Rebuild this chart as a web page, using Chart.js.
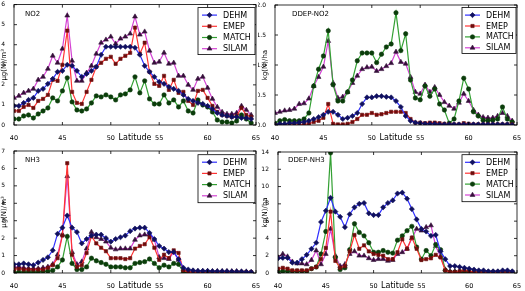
<!DOCTYPE html>
<html><head><meta charset="utf-8">
<script src="https://cdn.jsdelivr.net/npm/chart.js@4.4.1/dist/chart.umd.min.js"></script>
<style>
html,body{margin:0;padding:0;background:#fff;width:525px;height:291px;overflow:hidden;}
canvas{position:absolute;}
</style></head><body>
<canvas id="c1" style="left:0px;top:0px" width="262" height="146"></canvas>
<canvas id="c2" style="left:258px;top:0px" width="267" height="146"></canvas>
<canvas id="c3" style="left:0px;top:146px" width="262" height="145"></canvas>
<canvas id="c4" style="left:258px;top:146px" width="267" height="145"></canvas>
<script>
const latitudes = [40,40.5,41,41.5,42,42.5,43,43.5,44,44.5,45,45.5,46,46.5,47,47.5,48,48.5,49,49.5,50,50.5,51,51.5,52,52.5,53,53.5,54,54.5,55,55.5,56,56.5,57,57.5,58,58.5,59,59.5,60,60.5,61,61.5,62,62.5,63,63.5,64,64.5];
const models = ["DEHM","EMEP","MATCH","SILAM"];
const xTicks = [40,45,50,55,60,65];

const no2_dehm  = [0.95,0.95,1.1,1.25,1.35,1.7,1.8,2.05,2.3,2.65, 2.7,3.0,2.95,2.7,2.4,2.55,2.7,2.9,3.5,3.9, 3.9,3.9,3.9,3.9,3.9,3.85,3.5,2.95,2.65,2.4, 2.15,2.05,1.9,1.8,1.7,1.5,1.3,1.2,1.1,1.05, 0.95,0.8,0.6,0.5,0.45,0.4,0.4,0.35,0.35,0.3];
const no2_emep  = [0.7,0.7,0.9,1.0,0.85,1.2,1.3,1.5,2.25,2.2, 3.0,4.7,1.65,1.1,1.05,1.65,2.25,2.9,3.1,3.3, 3.4,3.05,3.3,3.45,3.6,4.85,3.55,4.1,2.65,2.05, 1.95,2.45,1.75,2.25,1.6,1.65,1.2,1.0,1.7,1.75, 1.35,0.95,0.65,0.5,0.45,0.4,0.45,0.85,0.5,0.4];
const no2_match = [0.3,0.3,0.45,0.5,0.35,0.55,0.7,0.85,1.35,1.2, 1.7,2.35,1.15,0.75,0.7,0.8,1.1,1.45,1.4,1.5, 1.4,1.25,1.5,1.55,1.75,2.4,1.6,2.2,1.3,1.05, 1.05,1.5,1.1,1.25,0.9,1.2,0.7,0.6,1.25,1.0, 0.9,0.65,0.25,0.15,0.15,0.1,0.2,0.5,0.3,0.1];
const no2_silam = [1.35,1.45,1.6,1.7,1.8,2.25,2.4,2.8,3.45,3.1, 3.8,5.45,3.2,2.2,2.2,2.6,2.95,3.55,4.1,4.25, 4.4,4.05,4.3,4.4,4.55,5.4,4.5,4.65,3.7,3.1, 3.15,3.6,3.05,3.1,2.45,2.45,2.0,1.75,2.3,2.4, 1.85,1.3,0.9,0.65,0.55,0.55,0.6,0.95,0.75,0.5];

const ddno2_dehm  = [0.0,0.02,0.02,0.03,0.03,0.04,0.05,0.07,0.1,0.13, 0.17,0.22,0.22,0.17,0.1,0.12,0.15,0.2,0.35,0.46, 0.46,0.48,0.48,0.47,0.46,0.4,0.3,0.15,0.07,0.04, 0.03,0.02,0.02,0.02,0.01,0.01,0.01,0.01,0.01,0.01, 0.01,0.01,0.01,0.01,0.01,0.01,0.01,0.01,0.01,0.0];
const ddno2_emep  = [0.0,0.0,0.0,0.0,0.0,0.0,0.01,0.02,0.05,0.07, 0.12,0.35,0.02,0.01,0.01,0.02,0.05,0.1,0.17,0.17, 0.2,0.17,0.18,0.2,0.22,0.22,0.22,0.2,0.1,0.04, 0.04,0.03,0.04,0.04,0.03,0.02,0.01,0.01,0.01,0.03, 0.02,0.01,0.01,0.01,0.01,0.01,0.01,0.01,0.01,0.01];
const ddno2_match = [0.03,0.07,0.09,0.07,0.07,0.07,0.1,0.2,0.65,0.93, 1.15,1.57,0.67,0.4,0.4,0.55,0.75,1.07,1.2,1.2, 1.2,1.04,1.18,1.3,1.35,1.87,1.24,1.52,0.75,0.45, 0.42,0.65,0.48,0.6,0.35,0.25,0.03,0.1,0.4,0.78, 0.6,0.22,0.15,0.08,0.07,0.08,0.1,0.3,0.1,0.05];
const ddno2_silam = [0.2,0.22,0.24,0.25,0.27,0.35,0.36,0.44,0.65,0.8, 0.97,1.4,0.7,0.45,0.47,0.55,0.7,0.82,0.93,0.96, 0.97,0.9,0.93,0.98,1.03,1.22,1.05,1.02,0.8,0.55, 0.52,0.67,0.55,0.63,0.5,0.38,0.32,0.27,0.37,0.52, 0.4,0.25,0.17,0.13,0.12,0.12,0.15,0.2,0.15,0.07];

const nh3_dehm  = [0.5,0.5,0.55,0.5,0.45,0.6,0.75,0.9,1.3,2.25, 2.6,3.3,2.6,2.35,1.7,1.95,2.15,2.2,2.2,2.0, 1.8,1.95,2.05,2.15,2.4,2.55,2.6,2.6,2.3,1.95, 1.55,1.4,1.2,1.2,0.8,0.3,0.2,0.15,0.12,0.12, 0.12,0.1,0.1,0.1,0.1,0.08,0.08,0.08,0.06,0.05];
const nh3_emep  = [0.2,0.25,0.2,0.2,0.2,0.2,0.2,0.3,0.45,0.85, 2.15,6.3,1.05,0.35,0.45,1.15,2.1,1.7,1.45,1.25, 0.85,0.85,0.85,0.8,0.85,1.4,1.55,1.65,2.05,1.45, 0.75,1.05,0.85,1.3,1.15,0.15,0.05,0.05,0.05,0.05, 0.05,0.05,0.05,0.05,0.05,0.05,0.05,0.05,0.05,0.05];
const nh3_match = [0.05,0.05,0.05,0.05,0.05,0.05,0.1,0.1,0.15,0.35, 0.75,2.1,0.55,0.2,0.2,0.35,0.85,0.7,0.6,0.5, 0.35,0.35,0.35,0.3,0.3,0.55,0.6,0.65,0.8,0.55, 0.3,0.45,0.35,0.55,0.5,0.05,0.02,0.02,0.02,0.02, 0.02,0.02,0.02,0.02,0.02,0.02,0.02,0.02,0.02,0.02];
const nh3_silam = [0.35,0.35,0.3,0.25,0.25,0.25,0.3,0.35,0.5,1.05, 2.2,5.55,1.2,0.5,0.65,1.4,2.35,2.05,1.95,1.8, 1.45,1.35,1.4,1.4,1.4,1.9,2.15,2.2,2.2,1.9, 0.9,0.85,0.8,1.2,0.75,0.2,0.1,0.1,0.1,0.1, 0.1,0.1,0.1,0.1,0.1,0.1,0.1,0.08,0.08,0.05];

const ddnh3_dehm  = [1.7,1.75,1.75,1.2,1.2,1.6,2.1,2.8,3.5,5.9, 7.2,8.7,7.1,6.5,5.3,6.8,7.6,8.0,8.1,6.9, 6.7,6.7,7.6,8.1,8.4,9.2,9.3,8.6,7.4,6.2, 5.1,4.8,4.3,4.4,2.5,1.6,0.8,0.8,0.7,0.6, 0.5,0.4,0.3,0.3,0.2,0.2,0.2,0.3,0.3,0.2];
const ddnh3_emep  = [0.5,0.6,0.5,0.3,0.3,0.3,0.3,0.5,0.7,1.6, 2.9,7.1,1.4,0.6,0.8,2.5,4.4,2.8,3.2,2.5, 2.2,2.1,2.0,1.6,1.6,2.4,3.9,2.8,4.1,2.8, 1.5,1.6,1.7,2.1,1.8,0.3,0.1,0.1,0.2,0.3, 0.2,0.1,0.1,0.1,0.1,0.1,0.1,0.1,0.1,0.1];
const ddnh3_match = [0.2,0.2,0.2,0.2,0.2,0.2,0.2,0.5,0.7,2.2, 4.8,13.9,1.8,0.4,0.6,2.7,5.7,4.7,4.3,3.5, 2.4,2.4,2.6,2.4,2.3,3.8,4.3,4.9,5.4,3.0, 1.6,2.6,2.0,3.3,2.7,0.3,0.1,0.1,0.1,0.2, 0.1,0.1,0.1,0.1,0.1,0.1,0.1,0.1,0.1,0.1];
const ddnh3_silam = [1.8,2.2,1.9,1.3,1.1,1.1,1.0,1.5,2.6,1.0, 2.2,5.1,2.0,0.8,1.0,2.2,2.5,2.0,2.0,1.7, 1.5,1.6,1.6,1.4,1.5,2.2,2.4,2.8,4.0,5.1, 4.9,5.3,5.5,3.1,1.9,0.4,0.2,0.2,0.2,0.2, 0.1,0.1,0.1,0.1,0.1,0.1,0.1,0.1,0.1,0.1];

const FONT = "'DejaVu Sans', sans-serif";
const styles = [
  {line:'#2f2fff', mark:'#10105e', shape:'rectRot', r:2.6},
  {line:'#ff3434', mark:'#6e0d0d', shape:'rect', r:2.3},
  {line:'#33a033', mark:'#0b3d0b', shape:'circle', r:2.2},
  {line:'#d443d4', mark:'#35103a', shape:'triangle', r:2.8}
];

const framePlugin = {
  id:'frame',
  afterDraw(chart){
    const o = chart.options.plugins.frame;
    const ctx = chart.ctx, ca = chart.chartArea;
    ctx.save();
    ctx.strokeStyle = '#000'; ctx.lineWidth = 0.8;
    ctx.strokeRect(ca.left, ca.top, ca.right-ca.left, ca.bottom-ca.top);
    const xs = chart.scales.x, ys = chart.scales.y;
    ctx.beginPath();
    xs.ticks.forEach(t=>{const px = xs.getPixelForValue(t.value);
      ctx.moveTo(px, ca.bottom); ctx.lineTo(px, ca.bottom-3);
      ctx.moveTo(px, ca.top); ctx.lineTo(px, ca.top+3);});
    ys.ticks.forEach(t=>{const py = ys.getPixelForValue(t.value);
      ctx.moveTo(ca.left, py); ctx.lineTo(ca.left+3, py);
      ctx.moveTo(ca.right, py); ctx.lineTo(ca.right-3, py);});
    ctx.stroke();
    ctx.fillStyle = '#000';
    ctx.font = '7px ' + FONT;
    ctx.textBaseline = 'middle'; ctx.textAlign = 'left';
    ctx.fillText(o.title, ca.left + o.titleDx, ca.top + o.titleDy);
    const bx = ca.right - o.legRight - o.legW, by = ca.top + o.legTop;
    ctx.fillStyle = '#fff';
    ctx.fillRect(bx, by, o.legW, o.legH);
    ctx.strokeStyle = '#000'; ctx.lineWidth = 0.8;
    ctx.strokeRect(bx, by, o.legW, o.legH);
    chart.data.datasets.forEach((ds,i)=>{
      const y = by + o.rowY0 + i*o.rowDy;
      const x0 = bx + o.lineX0, x1 = bx + o.lineX1;
      ctx.strokeStyle = ds.borderColor; ctx.lineWidth = 1.2;
      ctx.beginPath(); ctx.moveTo(x0,y); ctx.lineTo(x1,y); ctx.stroke();
      ctx.fillStyle = ds.pointBackgroundColor;
      ctx.strokeStyle = ds.pointBorderColor;
      ctx.lineWidth = 0.6;
      Chart.helpers.drawPoint(ctx, {pointStyle: ds.pointStyle, radius: ds.pointRadius, rotation:0, borderWidth:0.6}, (x0+x1)/2, y);
      ctx.fillStyle = '#000';
      ctx.font = '8px ' + FONT;
      ctx.textBaseline = 'middle';
      ctx.textAlign = 'left';
      ctx.fillText(ds.label, bx + o.textX, y + 0.5);
    });
    ctx.restore();
  }
};

function makePanel(id, series, g){
  const datasets = series.map((vals,i)=>({
    label: models[i],
    data: latitudes.map((x,k)=>({x:x, y:vals[k]})),
    borderColor: styles[i].line,
    backgroundColor: styles[i].mark,
    borderWidth: 1.2,
    pointStyle: styles[i].shape,
    pointRadius: styles[i].r,
    pointBackgroundColor: styles[i].mark,
    pointBorderColor: styles[i].mark,
    pointBorderWidth: 0.6,
    tension: 0,
    fill: false
  }));
  new Chart(document.getElementById(id), {
    type:'line',
    data:{datasets},
    plugins:[framePlugin],
    options:{
      responsive:false, animation:false, events:[],
      layout:{padding:{left:0, top:g.top, right:g.right, bottom:0}},
      plugins:{legend:{display:false}, tooltip:{enabled:false}, frame:g.frame},
      scales:{
        x:{type:'linear', min:40, max:65,
          afterBuildTicks(s){ s.ticks = xTicks.map(v=>({value:v})); },
          afterFit(s){ s.height = g.xh; s.paddingLeft = 0; s.paddingRight = 0; },
          grid:{display:false}, border:{display:false},
          ticks:{color:'#000', font:{family:FONT, size:6.5}, padding:g.xtp, maxRotation:0, autoSkip:false},
          title:{display:true, text:'Latitude', color:'#000', font:{family:FONT, size:8}, padding:{top:0, bottom:g.xttb}}
        },
        y:{min:0, max:g.ymax,
          afterBuildTicks(s){ s.ticks = g.yTicks.map(v=>({value:v})); },
          afterFit(s){ s.width = g.yw; s.paddingTop = 0; s.paddingBottom = 0; },
          grid:{display:false}, border:{display:false},
          ticks:{color:'#000', font:{family:FONT, size:6}, padding:1, autoSkip:false,
            callback:(v)=> g.dec ? Number(v).toFixed(1) : String(v)},
          title:{display:true, text:g.ytitle, color:'#000', font:{family:FONT, size:7}, padding:{top:g.yttp, bottom:0}}
        }
      }
    }
  });
}

const leftLeg = {legRight:1, legW:57, legTop:3, legH:47, rowY0:7.5, rowDy:11.2, lineX0:4, lineX1:19, textX:25};
const rightLeg = {legRight:1, legW:54, legTop:2.5, legH:46, rowY0:7.6, rowDy:10.9, lineX0:3, lineX1:18, textX:24};

makePanel('c1', [no2_dehm,no2_emep,no2_match,no2_silam], {
  top:3, right:6, xh:21, yw:14, xtp:1.5, xttb:3.7, yttp:0, ymax:6, yTicks:[0,1,2,3,4,5,6], dec:false,
  ytitle:'\u03bcg(N)/m\u00b3', frame:Object.assign({title:'NO2', titleDx:11, titleDy:10}, leftLeg)});
makePanel('c2', [ddno2_dehm,ddno2_emep,ddno2_match,ddno2_silam], {
  top:5, right:8, xh:21, yw:17, xtp:1.5, xttb:3.7, yttp:2.5, ymax:2, yTicks:[0,0.5,1,1.5,2], dec:true,
  ytitle:'kg(N)/ha', frame:Object.assign({title:'DDEP-NO2', titleDx:17, titleDy:9}, rightLeg)});
makePanel('c3', [nh3_dehm,nh3_emep,nh3_match,nh3_silam], {
  top:5, right:6, xh:18, yw:14, xtp:1.0, xttb:0.6, yttp:0, ymax:7, yTicks:[0,1,2,3,4,5,6,7], dec:false,
  ytitle:'\u03bcg(N)/m\u00b3', frame:Object.assign({title:'NH3', titleDx:11, titleDy:9}, leftLeg, {legTop:3.7, legH:48})});
makePanel('c4', [ddnh3_dehm,ddnh3_emep,ddnh3_match,ddnh3_silam], {
  top:6, right:8, xh:18, yw:20, xtp:1.0, xttb:0.6, yttp:2.5, ymax:14, yTicks:[0,2,4,6,8,10,12,14], dec:false,
  ytitle:'kg(N)/ha', frame:Object.assign({title:'DDEP-NH3', titleDx:10, titleDy:8}, rightLeg, {legTop:2.7, legH:47})});
</script>
</body></html>
